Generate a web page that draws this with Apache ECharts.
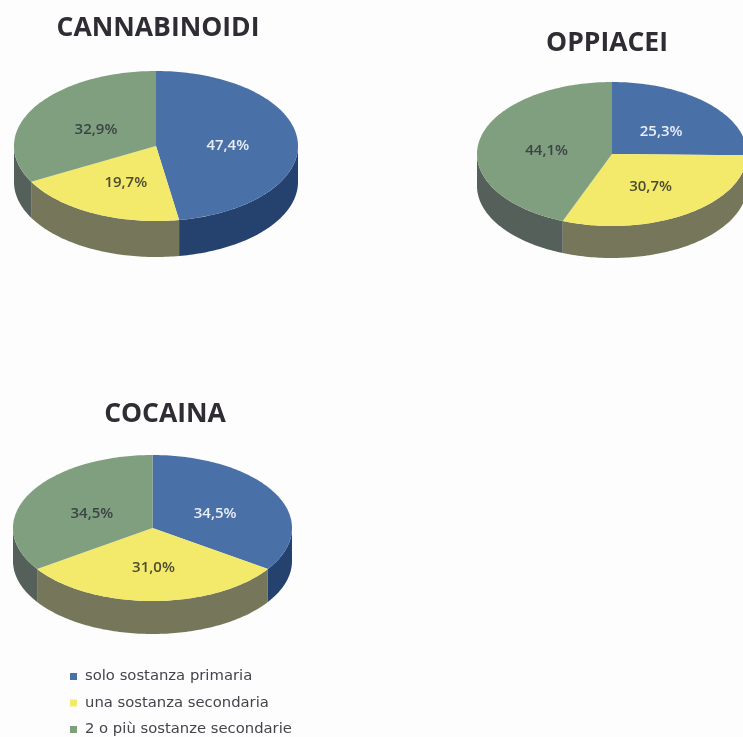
<!DOCTYPE html>
<html>
<head>
<meta charset="utf-8">
<style>
html, body { margin: 0; padding: 0; background: #fdfdfd; overflow: hidden; }
#chart { width: 743px; height: 737px; filter: blur(0.6px); }
</style>
<script src="https://cdn.jsdelivr.net/npm/echarts@6/dist/echarts.min.js"></script>
</head>
<body>
<div id="chart"></div>
<script>
// titoli dei tre grafici
var sostanze = ['CANNABINOIDI', 'OPPIACEI', 'COCAINA'];

// percentuali, una voce per grafico
var soloPrimaria = [47.4, 25.3, 34.5];
var unaSecondaria = [19.7, 30.7, 31.0];
var piuSecondarie = [32.9, 44.1, 34.5];

var nomi = ['solo sostanza primaria', 'una sostanza secondaria', '2 o più sostanze secondarie'];
var valori = [soloPrimaria, unaSecondaria, piuSecondarie];

// colori faccia, fianco ed etichetta per ogni categoria
var colori = ['#4a70a8', '#f3ea6c', '#7f9f7e'];
var fianchi = ['#25426f', '#76775a', '#56605a'];
var coloriTesto = ['#e9eef6', '#4c4c30', '#3c4448'];

// posizione delle torte sulla pagina
var torte = [
    { cx: 156, cy: 146, rx: 142, ry: 75, depth: 36 },
    { cx: 612, cy: 154, rx: 135, ry: 72, depth: 32 },
    { cx: 152.5, cy: 528, rx: 139.5, ry: 73, depth: 33 }
];

function punto(t, ang, dy) {
    return [t.cx + t.rx * Math.sin(ang), t.cy - t.ry * Math.cos(ang) + (dy || 0)];
}

function arco(t, a0, a1, dy) {
    var pts = [];
    var n = Math.max(2, Math.ceil(Math.abs(a1 - a0) / 0.02));
    for (var i = 0; i <= n; i++) {
        pts.push(punto(t, a0 + (a1 - a0) * i / n, dy));
    }
    return pts;
}

function disegnaFetta(params, api) {
    var cat = params.seriesIndex;
    var i = params.dataIndex;
    var t = torte[i];
    var totale = soloPrimaria[i] + unaSecondaria[i] + piuSecondarie[i];
    var prima = 0;
    for (var k = 0; k < cat; k++) {
        prima += valori[k][i];
    }
    var a0 = prima / totale * Math.PI * 2;
    var a1 = (prima + api.value(0)) / totale * Math.PI * 2;
    var children = [];

    // fianco: solo la parte davanti, tra 90 e 270 gradi
    var f0 = Math.max(a0, Math.PI / 2);
    var f1 = Math.min(a1, Math.PI * 1.5);
    if (f1 > f0) {
        children.push({
            type: 'polygon',
            shape: { points: arco(t, f0, f1, 0).concat(arco(t, f1, f0, t.depth)) },
            style: { fill: fianchi[cat] }
        });
    }

    children.push({
        type: 'polygon',
        shape: { points: [[t.cx, t.cy]].concat(arco(t, a0, a1, 0)) },
        style: { fill: colori[cat] }
    });

    var mid = (a0 + a1) / 2;
    children.push({
        type: 'text',
        z2: 10,
        style: {
            text: api.value(0).toFixed(1).replace('.', ',') + '%',
            x: t.cx + t.rx * 0.5 * Math.sin(mid) + 1,
            y: t.cy - t.ry * 0.5 * Math.cos(mid) + 3,
            align: 'center',
            verticalAlign: 'middle',
            font: '600 15px "Open Sans"',
            fill: coloriTesto[cat]
        }
    });
    return { type: 'group', children: children };
}

var myChart = echarts.init(document.getElementById('chart'));

var titleStyle = {
    fontFamily: 'Open Sans',
    fontSize: 26.5,
    fontWeight: 'bold',
    color: '#2f2c33'
};

var option = {
    backgroundColor: '#fdfdfd',
    animation: false,
    title: [
        { text: sostanze[0], left: 153, top: 10, textAlign: 'center', textStyle: titleStyle },
        { text: sostanze[1], left: 602, top: 25, textAlign: 'center', textStyle: titleStyle },
        { text: sostanze[2], left: 160, top: 396, textAlign: 'center', textStyle: titleStyle }
    ],
    legend: {
        data: nomi,
        orient: 'vertical',
        left: 70,
        top: 669,
        height: 90,
        padding: 0,
        itemWidth: 7,
        itemHeight: 7,
        itemGap: 11.5,
        icon: 'rect',
        selectedMode: false,
        textStyle: {
            fontFamily: 'DejaVu Sans',
            fontSize: 14.8,
            color: '#44444c',
            padding: [0, 0, 0, 3]
        }
    },
    series: nomi.map(function(nome, c) {
        return {
            name: nome,
            type: 'custom',
            coordinateSystem: 'none',
            renderItem: disegnaFetta,
            itemStyle: { color: colori[c] },
            data: valori[c]
        };
    })
};

myChart.setOption(option);
</script>
</body>
</html>
